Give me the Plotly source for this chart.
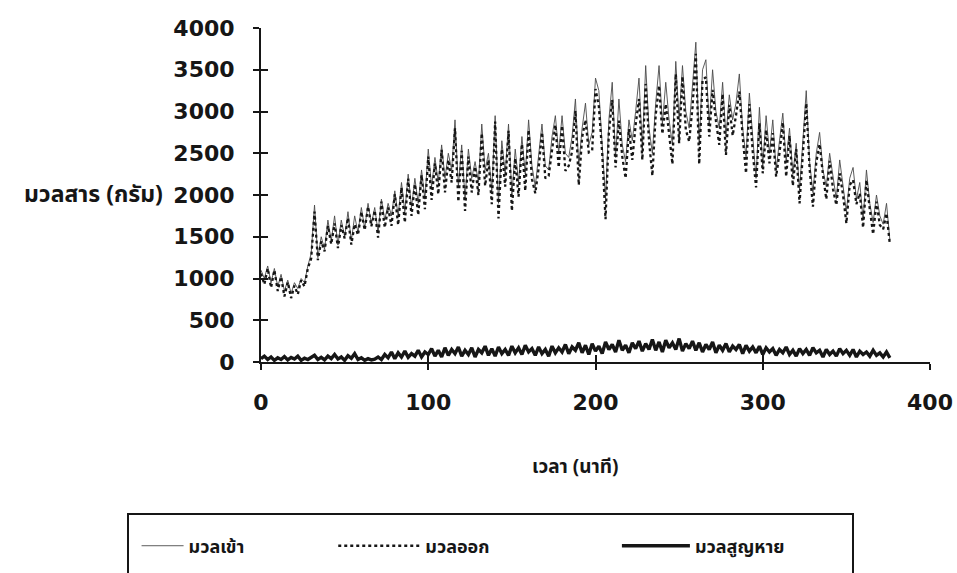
import plotly.graph_objects as go

# Sampling time (minutes), one reading every 2 minutes
minutes = list(range(0, 378, 2))

# Mass entering the system (g)
mass_in = [
    1100, 1000, 1150, 950, 1120, 900, 1050, 850, 980, 820, 950, 880, 1000, 950, 1150,
    1300, 1880, 1250, 1500, 1350, 1700, 1450, 1750, 1400, 1700, 1500, 1800, 1450, 1750, 1550,
    1850, 1600, 1900, 1650, 1850, 1550, 1950, 1700, 1900, 1750, 2050, 1750, 2150, 1800, 2250,
    1850, 2200, 1900, 2300, 1950,
    2550, 2100, 2450, 2150, 2600, 2200, 2500, 2300, 2900, 2100, 2600, 1950, 2550, 2200, 2400,
    2150, 2850, 2300, 2500, 2050, 2950, 1900, 2650, 2250, 2850, 2000, 2550, 2150, 2700, 2250,
    2900, 2350, 2100, 2500, 2850, 2350, 2300, 2700, 2950, 2500,
    2950, 2500, 2450, 2700, 3150, 2350, 2800, 3100, 2600, 2750, 3400, 3250, 2600, 1950, 2900,
    3350, 2450, 3150, 2600, 2400, 2900, 2650, 3000, 3400, 2550, 3550, 2800, 2500, 3100, 3550,
    2850, 3350, 2900, 2600, 3600, 2900, 3550, 3000, 2800, 3300, 3830, 2600, 3500, 3620, 2850,
    3500, 3000, 2800, 3350, 2700, 3200, 2900, 3100, 3450, 2800, 2460, 3220, 2700, 2200, 3050,
    2350, 2950, 2500, 2900, 2300, 2650, 2980, 2400, 2800, 2250, 2620, 2060, 2600, 3250, 2400,
    2030, 2500, 2750, 2300, 2100, 2500, 2200, 1950, 2420, 2100, 1800, 2200, 2330, 1950, 2150,
    1700, 2300, 1900, 1670, 2000, 1750, 1650, 1900, 1460,
]

# Mass leaving the system (g)
mass_out = [
    1060, 930, 1120, 890, 1100, 850, 1020, 785, 955, 765, 915, 810, 980, 905, 1120,
    1240, 1800, 1220, 1445, 1325, 1630, 1410, 1660, 1365, 1640, 1480, 1725, 1405, 1650, 1520,
    1800, 1580, 1860, 1625, 1815, 1490, 1920, 1610, 1850, 1630, 2010, 1640, 2090, 1670, 2195,
    1750, 2130, 1760, 2240, 1830,
    2460, 1940, 2380, 2010, 2540, 2030, 2420, 2150, 2800, 1920, 2530, 1810, 2460, 2030, 2340,
    2000, 2740, 2110, 2420, 1890, 2880, 1720, 2550, 2100, 2770, 1810, 2440, 1980, 2610, 2050,
    2780, 2190, 2020, 2320, 2750, 2200, 2230, 2510, 2840, 2330,
    2830, 2290, 2350, 2520, 3010, 2120, 2690, 2900, 2510, 2530, 3270, 3060, 2500, 1710, 2750,
    3140, 2330, 2890, 2460, 2200, 2790, 2420, 2840, 3150, 2420, 3330, 2650, 2230, 2960, 3310,
    2730, 3090, 2730, 2370, 3450, 2620, 3420, 2780, 2640, 3050, 3690, 2370, 3380, 3410, 2700,
    3260, 2890, 2600, 3210, 2480, 3080, 2710, 2950, 3240, 2700, 2260, 3090, 2520, 2090, 2860,
    2260, 2780, 2380, 2740, 2220, 2500, 2870, 2220, 2710, 2110, 2550, 1900, 2500, 3100, 2320,
    1860, 2390, 2610, 2240, 1950, 2410, 2070, 1880, 2260, 2000, 1660, 2120, 2180, 1890, 2020,
    1610, 2180, 1830, 1530, 1920, 1640, 1590, 1780, 1410,
]

# Mass lost (g)
mass_loss = [
    40, 70, 30, 60, 20, 50, 30, 65, 25, 55, 35, 70, 20, 45, 30,
    60, 80, 30, 55, 25, 70, 40, 90, 35, 60, 20, 75, 45, 100, 30,
    50, 20, 40, 25, 35, 60, 30, 90, 50, 120, 40, 110, 60, 130, 55, 100, 70, 140, 60, 120,
    90, 160, 70, 140, 60, 170, 80, 150, 100, 180, 70, 140, 90, 170, 60, 150, 110, 190, 80, 160,
    70, 180, 100, 150, 80, 190, 110, 170, 90, 200, 120, 160, 80, 180, 100, 150, 70, 190, 110, 170,
    120, 210, 100, 180, 140, 230, 110, 200, 90, 220, 130, 190, 100, 240, 150, 210, 120, 260, 140, 200,
    110, 230, 160, 250, 130, 220, 150, 270, 140, 240, 120, 260, 170, 230, 150, 280, 130, 220, 160, 250,
    140, 230, 120, 210, 150, 240, 110, 200, 140, 220, 120, 190, 150, 210, 100, 200, 130, 180, 110, 190,
    90, 170, 120, 160, 80, 150, 110, 180, 90, 140, 70, 160, 100, 150, 80, 170, 110, 140, 60, 150,
    90, 130, 70, 160, 100, 140, 80, 150, 60, 130, 90, 120, 70, 140, 80, 110, 60, 120, 50,
]

x_ticks = [0, 100, 200, 300, 400]
y_ticks = [0, 500, 1000, 1500, 2000, 2500, 3000, 3500, 4000]

series_names = ["มวลเข้า", "มวลออก", "มวลสูญหาย"]

THAI_FONT = "Noto Sans Thai, Loma, Garuda, Tlwg Typo, DejaVu Sans, sans-serif"
NUM_FONT = "DejaVu Sans"
INK = "#161616"

fig = go.Figure()

fig.add_trace(go.Scatter(
    x=minutes, y=mass_in, name=series_names[0], mode="lines",
    line=dict(color="#4a4a4a", width=0.9), legend="legend",
))
fig.add_trace(go.Scatter(
    x=minutes, y=mass_out, name=series_names[1], mode="lines",
    line=dict(color=INK, width=2.3, dash="dot"), legend="legend2",
))
fig.add_trace(go.Scatter(
    x=minutes, y=mass_loss, name=series_names[2], mode="lines",
    line=dict(color=INK, width=3.4), legend="legend3",
    xaxis="x2", yaxis="y2",
))

tick_font = dict(family=NUM_FONT, size=22, color=INK, weight="bold")
legend_font = dict(family=THAI_FONT, size=18, color=INK, weight="bold")

fig.update_layout(
    width=957, height=573,
    margin=dict(l=261, r=27, t=28, b=211, autoexpand=False),
    paper_bgcolor="white", plot_bgcolor="white",
    showlegend=True,
    xaxis=dict(
        range=[0, 400], tickvals=x_ticks, ticktext=[str(v) for v in x_ticks],
        showgrid=False, zeroline=False, showline=True, linecolor=INK, linewidth=2,
        ticks="outside", ticklen=6, tickwidth=2, tickcolor=INK,
        tickfont=tick_font, ticklabelstandoff=14,
    ),
    yaxis=dict(
        range=[0, 4000], tickvals=y_ticks, ticktext=[str(v) for v in y_ticks],
        showgrid=False, zeroline=False, showline=True, linecolor=INK, linewidth=2,
        ticks="outside", ticklen=6, tickwidth=2, tickcolor=INK,
        tickfont=tick_font, ticklabelstandoff=14,
    ),
    # Companion axes carrying the inner half of each crossing tick
    xaxis2=dict(
        range=[0, 400], tickvals=x_ticks, overlaying="x", anchor="y2",
        showgrid=False, zeroline=False, showline=False, showticklabels=False,
        ticks="inside", ticklen=7, tickwidth=2, tickcolor=INK,
    ),
    yaxis2=dict(
        range=[0, 4000], tickvals=y_ticks, overlaying="y", anchor="x2",
        showgrid=False, zeroline=False, showline=False, showticklabels=False,
        ticks="inside", ticklen=7, tickwidth=2, tickcolor=INK,
    ),
    legend=dict(
        x=-0.186, y=-0.551, xanchor="left", yanchor="middle", orientation="h",
        itemwidth=42, bgcolor="rgba(0,0,0,0)", font=legend_font,
    ),
    legend2=dict(
        x=0.108, y=-0.551, xanchor="left", yanchor="middle", orientation="h",
        itemwidth=82, bgcolor="rgba(0,0,0,0)", font=legend_font,
    ),
    legend3=dict(
        x=0.532, y=-0.551, xanchor="left", yanchor="middle", orientation="h",
        itemwidth=68, bgcolor="rgba(0,0,0,0)", font=legend_font,
    ),
    shapes=[
        # Frame around the legend entries
        dict(type="rect", xref="paper", yref="paper",
             x0=-0.1988, x1=0.8849, y0=-0.455, y1=-0.72,
             line=dict(color=INK, width=2), fillcolor="rgba(0,0,0,0)", layer="above"),
    ],
    annotations=[
        dict(text="มวลสาร (กรัม)", xref="paper", yref="y", x=-0.143, y=2000,
             xanchor="right", yanchor="middle", showarrow=False,
             font=dict(family=THAI_FONT, size=23, color=INK, weight="bold")),
        dict(text="เวลา (นาที)", xref="paper", yref="paper", x=0.469, y=-0.317,
             xanchor="center", yanchor="middle", showarrow=False,
             font=dict(family=THAI_FONT, size=19, color=INK, weight="bold")),
    ],
)

fig.write_html("out.html")
